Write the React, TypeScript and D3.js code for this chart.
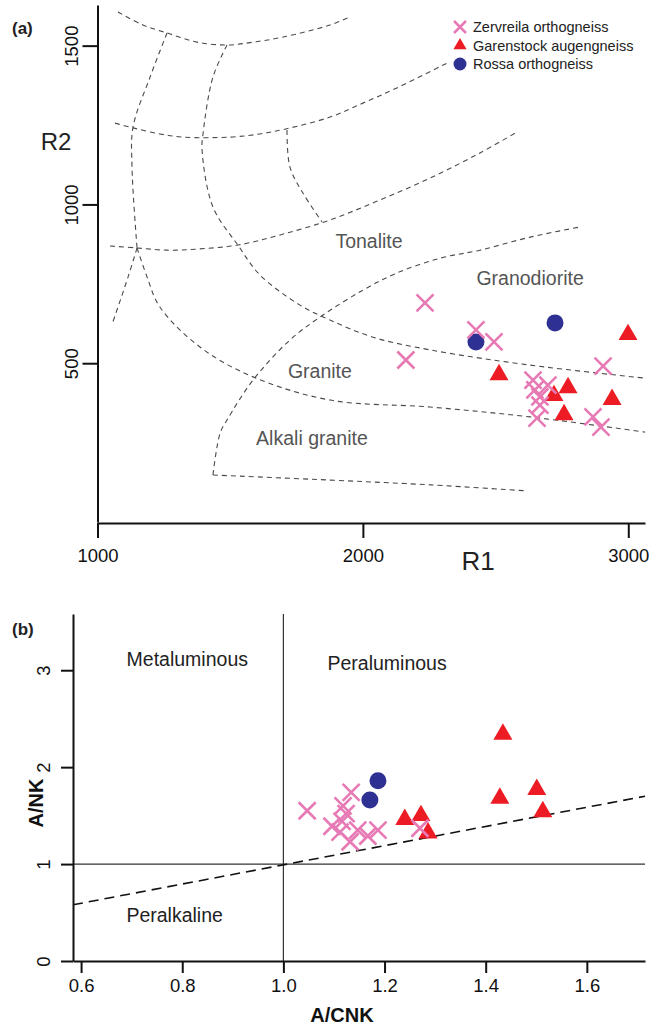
import React, { useEffect, useRef } from 'react';
import * as d3 from 'd3';

const FONT = '"Liberation Sans", Arial, Helvetica, sans-serif';
const PINK = '#e77ab5';
const RED = '#ed1c24';
const NAVY = '#2e3192';

// ---- (a) R1-R2 diagram, values as [R1, R2]
const zervreilaR1R2 = [
  [2234, 690], [2426, 605], [2494, 567], [2162, 510], [2905, 491],
  [2641, 447], [2697, 431], [2648, 416], [2667, 394], [2667, 368],
  [2656, 327], [2867, 331], [2897, 299],
];
const garenstockR1R2 = [
  [2999, 590], [2513, 464], [2773, 423], [2720, 398], [2939, 386], [2758, 338],
];
const rossaR1R2 = [[2426, 567], [2724, 627]];

// field boundaries (dashed), in R1/R2 units
const r1r2Curves = [
  [[1077, 1606], [1171, 1565], [1262, 1540], [1375, 1511], [1488, 1502], [1586, 1511], [1699, 1527], [1876, 1565], [1951, 1590]],
  [[1066, 1256], [1134, 1241], [1235, 1222], [1322, 1212], [1499, 1212], [1612, 1222], [1706, 1237], [1876, 1275], [2000, 1319], [2128, 1367], [2317, 1445]],
  [[1047, 869], [1149, 863], [1262, 856], [1386, 860], [1529, 872], [1688, 904], [1876, 951], [2064, 1014], [2253, 1083], [2441, 1162], [2581, 1228]],
  [[1262, 1540], [1198, 1401], [1134, 1244], [1130, 1118], [1149, 863]],
  [[1149, 863], [1115, 771], [1058, 630]],
  [[1149, 863], [1187, 771], [1235, 677], [1386, 551], [1586, 457], [1876, 384], [2253, 362], [2630, 331], [3063, 283]],
  [[1488, 1502], [1435, 1401], [1398, 1225], [1394, 1171], [1435, 992], [1529, 872], [1612, 778], [1763, 683], [1876, 636], [2038, 582], [2253, 542], [2630, 494], [3063, 453]],
  [[1714, 1234], [1725, 1118], [1774, 1036], [1846, 945]],
  [[1435, 148], [1462, 280], [1488, 321], [1586, 447], [1725, 573], [1838, 645], [2000, 730], [2128, 784], [2292, 831], [2441, 856], [2630, 897], [2818, 929]],
  [[1435, 148], [1876, 132], [2253, 117], [2618, 98]],
];
const r1r2Fields = [
  { name: 'Tonalite', r1: 2023, r2: 863 },
  { name: 'Granodiorite', r1: 2630, r2: 746 },
  { name: 'Granite', r1: 1838, r2: 453 },
  { name: 'Alkali granite', r1: 1808, r2: 242 },
];
const r1Ticks = [1000, 2000, 3000];
const r2Ticks = [500, 1000, 1500];

// ---- (b) Shand diagram, values as [A/CNK, A/NK]
const zervreilaShand = [
  [1.047, 1.55], [1.134, 1.74], [1.118, 1.60], [1.124, 1.52], [1.096, 1.39],
  [1.116, 1.44], [1.132, 1.23], [1.147, 1.35], [1.167, 1.29], [1.187, 1.35],
  [1.270, 1.37], [1.112, 1.33],
];
const garenstockShand = [
  [1.434, 2.34], [1.428, 1.68], [1.501, 1.77], [1.513, 1.54], [1.240, 1.46],
  [1.272, 1.50], [1.286, 1.32],
];
const rossaShand = [[1.187, 1.86], [1.171, 1.66]];
const shandDivide = [[0.584, 0.58], [1.715, 1.70]];
const shandFields = [
  { name: 'Metaluminous', a: 0.81, b: 3.04 },
  { name: 'Peraluminous', a: 1.205, b: 3.0 },
  { name: 'Peralkaline', a: 0.785, b: 0.40 },
];
const acnkTicks = [0.6, 0.8, 1.0, 1.2, 1.4, 1.6];
const ankTicks = [0, 1, 2, 3];

const series = [
  { name: 'Zervreila orthogneiss', kind: 'cross', color: PINK },
  { name: 'Garenstock augengneiss', kind: 'triangle', color: RED },
  { name: 'Rossa orthogneiss', kind: 'circle', color: NAVY },
];

function marker(g, kind, color, cx, cy, s) {
  if (kind === 'cross') {
    const a = s;
    g.append('path')
      .attr('d', `M${cx - a},${cy - a}L${cx + a},${cy + a}M${cx - a},${cy + a}L${cx + a},${cy - a}`)
      .attr('stroke', color).attr('stroke-width', 2.6).attr('fill', 'none');
  } else if (kind === 'triangle') {
    const size = s === 6 ? 75 : 156;
    g.append('path')
      .attr('d', d3.symbol(d3.symbolTriangle).size(size)())
      .attr('transform', `translate(${cx},${cy})`)
      .attr('fill', color);
  } else {
    g.append('circle').attr('cx', cx).attr('cy', cy).attr('r', s === 6 ? 6.5 : 8.5).attr('fill', color);
  }
}

function styleAxis(ax, width) {
  ax.attr('font-family', FONT).attr('font-size', 18.5);
  ax.select('.domain').attr('stroke', '#111').attr('stroke-width', width);
  ax.selectAll('.tick line').attr('stroke', '#111').attr('stroke-width', width);
  ax.selectAll('.tick text').attr('fill', '#111');
}

function drawR1R2(g) {
  const x = d3.scaleLinear().domain([1000, 3063]).range([97.5, 645]);
  const y = d3.scaleLinear().domain([0, 1628]).range([522, 5]);
  const line = d3.line().x(d => x(d[0])).y(d => y(d[1])).curve(d3.curveCatmullRom);

  r1r2Curves.forEach((c) => {
    g.append('path').attr('d', line(c)).attr('fill', 'none')
      .attr('stroke', '#4a4a4a').attr('stroke-width', 1.1).attr('stroke-dasharray', '5,4');
  });

  r1r2Fields.forEach((f) => {
    g.append('text').attr('x', x(f.r1)).attr('y', y(f.r2))
      .attr('text-anchor', 'middle').attr('font-family', FONT).attr('font-size', 19.5)
      .attr('fill', '#555').text(f.name);
  });

  const xAxis = g.append('g').attr('transform', 'translate(0,523)')
    .call(d3.axisBottom(x).tickValues(r1Ticks).tickSize(15).tickSizeOuter(0).tickFormat(d3.format('d')));
  styleAxis(xAxis, 2);
  xAxis.selectAll('.tick text').attr('dy', null).attr('y', 39);

  const yAxis = g.append('g').attr('transform', 'translate(97.5,0)')
    .call(d3.axisLeft(y).tickValues(r2Ticks).tickSize(15).tickSizeOuter(0).tickFormat(d3.format('d')));
  styleAxis(yAxis, 2);
  yAxis.selectAll('.tick text').attr('dy', null).attr('x', 0).attr('y', -20)
    .attr('text-anchor', 'middle').attr('transform', 'rotate(-90)');

  g.append('text').attr('x', 56).attr('y', 150).attr('text-anchor', 'middle')
    .attr('font-family', FONT).attr('font-size', 24).attr('fill', '#222').text('R2');
  g.append('text').attr('x', 478).attr('y', 570).attr('text-anchor', 'middle')
    .attr('font-family', FONT).attr('font-size', 26).attr('fill', '#222').text('R1');
  g.append('text').attr('x', 12).attr('y', 34).attr('font-family', FONT)
    .attr('font-weight', 'bold').attr('font-size', 17).attr('fill', '#222').text('(a)');

  // legend
  series.forEach((s, i) => {
    const cy = 27 + i * 18.5;
    marker(g, s.kind, s.color, 460, cy, 6);
    g.append('text').attr('x', 473).attr('y', cy + 5).attr('font-family', FONT)
      .attr('font-size', 14.5).attr('fill', '#222').text(s.name);
  });

  rossaR1R2.forEach(d => marker(g, 'circle', NAVY, x(d[0]), y(d[1]), 8.5));
  garenstockR1R2.forEach(d => marker(g, 'triangle', RED, x(d[0]), y(d[1]), 8.5));
  zervreilaR1R2.forEach(d => marker(g, 'cross', PINK, x(d[0]), y(d[1]), 8.5));
}

function drawShand(g) {
  const x = d3.scaleLinear().domain([0.584, 1.715]).range([73, 645]);
  const y = d3.scaleLinear().domain([0, 3.58]).range([961, 614]);

  g.append('line').attr('x1', x(1)).attr('x2', x(1)).attr('y1', y(3.58)).attr('y2', y(0))
    .attr('stroke', '#333').attr('stroke-width', 1.2);
  g.append('line').attr('x1', x(0.584)).attr('x2', x(1.715)).attr('y1', y(1)).attr('y2', y(1))
    .attr('stroke', '#333').attr('stroke-width', 1.2);
  g.append('path').attr('d', d3.line().x(d => x(d[0])).y(d => y(d[1]))(shandDivide))
    .attr('fill', 'none').attr('stroke', '#111').attr('stroke-width', 1.6).attr('stroke-dasharray', '10,6');

  shandFields.forEach((f) => {
    g.append('text').attr('x', x(f.a)).attr('y', y(f.b)).attr('text-anchor', 'middle')
      .attr('font-family', FONT).attr('font-size', 19.5).attr('fill', '#222').text(f.name);
  });

  const xAxis = g.append('g').attr('transform', 'translate(0,961)')
    .call(d3.axisBottom(x).tickValues(acnkTicks).tickSize(12).tickSizeOuter(0).tickFormat(d3.format('.1f')));
  styleAxis(xAxis, 2);
  xAxis.selectAll('.tick text').attr('dy', null).attr('y', 31);

  const yAxis = g.append('g').attr('transform', 'translate(73,0)')
    .call(d3.axisLeft(y).tickValues(ankTicks).tickSize(12).tickSizeOuter(0).tickFormat(d3.format('d')));
  styleAxis(yAxis, 2);
  yAxis.selectAll('.tick text').attr('dy', null).attr('x', 0).attr('y', -23)
    .attr('text-anchor', 'middle').attr('transform', 'rotate(-90)');

  g.append('text').attr('transform', 'translate(43,803) rotate(-90)').attr('text-anchor', 'middle')
    .attr('font-family', FONT).attr('font-weight', 'bold').attr('font-size', 20).attr('fill', '#111').text('A/NK');
  g.append('text').attr('x', 342).attr('y', 1022).attr('text-anchor', 'middle')
    .attr('font-family', FONT).attr('font-weight', 'bold').attr('font-size', 20).attr('fill', '#111').text('A/CNK');
  g.append('text').attr('x', 12).attr('y', 635).attr('font-family', FONT)
    .attr('font-weight', 'bold').attr('font-size', 17).attr('fill', '#222').text('(b)');

  rossaShand.forEach(d => marker(g, 'circle', NAVY, x(d[0]), y(d[1]), 8.5));
  garenstockShand.forEach(d => marker(g, 'triangle', RED, x(d[0]), y(d[1]), 8.5));
  zervreilaShand.forEach(d => marker(g, 'cross', PINK, x(d[0]), y(d[1]), 8.5));
}

export default function App() {
  const ref = useRef(null);

  useEffect(() => {
    const svg = d3.select(ref.current);
    svg.selectAll('*').remove();
    drawR1R2(svg.append('g'));
    drawShand(svg.append('g'));
  }, []);

  return (
    <svg
      ref={ref}
      width={660}
      height={1027}
      style={{ position: 'absolute', left: 0, top: 0, background: '#fff' }}
    />
  );
}
